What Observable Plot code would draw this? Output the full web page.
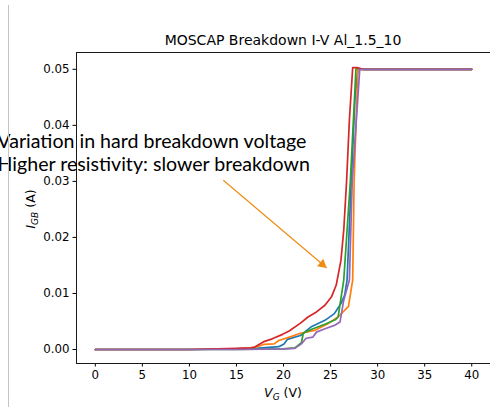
<!DOCTYPE html>
<html>
<head>
<meta charset="utf-8">
<script src="https://cdn.jsdelivr.net/npm/d3@7"></script>
<script src="https://cdn.jsdelivr.net/npm/@observablehq/plot@0.6"></script>
<style>
  html, body { margin: 0; padding: 0; background: #fff; }
  #wrap { position: relative; width: 490px; height: 407px; overflow: hidden; }
  #border { position: absolute; left: 8px; top: 5px; width: 1px; height: 402px; background: #c4c4c4; }
  #chart { position: absolute; left: 0; top: 0; }
</style>
</head>
<body>
<div id="wrap"><div id="chart"></div><div id="border"></div></div>
<script>
// ---- data ----
const seriesNames = ["run 1", "run 2", "run 3", "run 4", "run 5"];
const seriesColors = ["#1f77b4", "#ff7f0e", "#2ca02c", "#d62728", "#9467bd"];

const run1V = [0, 10, 15, 17, 19.5, 20.05, 20.4, 21.8, 22.9, 24.4, 25.4, 26.1, 26.5, 26.75, 27.2, 27.6, 27.9, 28.5, 40];
const run1I = [0, 0, 0.0001, 0.0002, 0.0005, 0.0010, 0.0018, 0.0025, 0.0040, 0.0052, 0.0064, 0.0082, 0.0097, 0.0124, 0.030, 0.045, 0.0500, 0.0500, 0.0500];

const run2V = [0, 10, 15, 16.5, 17.2, 17.9, 19.0, 19.5, 20.8, 21.8, 23.3, 24.7, 25.8, 26.9, 27.35, 27.5, 27.9, 28.5, 40];
const run2I = [0, 0, 0.0001, 0.0003, 0.0005, 0.0009, 0.0010, 0.0016, 0.0023, 0.0029, 0.0034, 0.0046, 0.0058, 0.0077, 0.0124, 0.030, 0.0500, 0.0500, 0.0500];

const run3V = [0, 10, 15, 20, 21.2, 21.9, 22.1, 23.0, 24.4, 25.5, 25.8, 26.4, 27.1, 27.7, 28.5, 40];
const run3I = [0, 0, 0, 0.0001, 0.0003, 0.0012, 0.0029, 0.0036, 0.0045, 0.0053, 0.0058, 0.0124, 0.030, 0.0502, 0.0500, 0.0500];

const run4V = [0, 10, 13, 15, 16.5, 16.9, 17.9, 18.8, 19.9, 20.6, 21.8, 22.6, 23.5, 24.4, 25.1, 25.6, 26.1, 26.4, 26.7, 27.0, 27.35, 27.8, 28.5, 40];
const run4I = [0, 0, 0.0001, 0.0002, 0.0003, 0.0004, 0.0014, 0.0019, 0.0027, 0.0033, 0.0047, 0.0058, 0.0067, 0.0079, 0.0094, 0.0115, 0.0159, 0.0213, 0.030, 0.041, 0.0503, 0.0503, 0.0500, 0.0500];

const run5V = [0, 10, 15, 20, 21.2, 21.9, 22.4, 23.1, 23.5, 24.4, 25.4, 26.0, 26.4, 27.0, 27.3, 28.1, 28.5, 40];
const run5I = [0, 0, 0, 0.0001, 0.0002, 0.0010, 0.0020, 0.0022, 0.0031, 0.0037, 0.0043, 0.0049, 0.0088, 0.0124, 0.030, 0.0500, 0.0500, 0.0500];

const xTicks = [0, 5, 10, 15, 20, 25, 30, 35, 40];
const yTicks = [0, 0.01, 0.02, 0.03, 0.04, 0.05];

const titleText = "MOSCAP Breakdown I-V Al_1.5_10";
const noteLines = ["Variation in hard breakdown voltage", "Higher resistivity: slower breakdown"];
const arrowFrom = {x: 13.6, y: 0.0302};
const arrowTo = {x: 24.57, y: 0.01458};

// ---- build table ----
const allV = [run1V, run2V, run3V, run4V, run5V];
const allI = [run1I, run2I, run3I, run4I, run5I];
const rows = [];
seriesNames.forEach((s, k) => {
  allV[k].forEach((v, i) => rows.push({series: s, V: v, I: allI[k][i]}));
});

const W = 490, H = 407;
const ml = 76, mt = 52, mb = 44, mr = -1;

const plot = Plot.plot({
  width: W,
  height: H,
  marginLeft: ml,
  marginTop: mt,
  marginBottom: mb,
  marginRight: mr,
  style: {fontFamily: "DejaVu Sans", fontSize: "11.8px", color: "#000", background: "transparent"},
  x: {domain: [-2, 42.1], ticks: xTicks, tickFormat: d3.format("d"), tickSize: 3.5, tickPadding: 3.5, label: null},
  y: {domain: [-0.0025, 0.053], ticks: yTicks, tickFormat: d3.format(".2f"), tickSize: 3.5, tickPadding: 3.5, label: null},
  color: {type: "ordinal", domain: seriesNames, range: seriesColors},
  marks: [
    Plot.frame({stroke: "#1a1a1a", strokeWidth: 1}),
    Plot.line(rows, {x: "V", y: "I", z: "series", stroke: "series", strokeWidth: 1.7, strokeLinejoin: "round"}),
    Plot.link([{x1: arrowFrom.x, y1: arrowFrom.y, x2: arrowTo.x, y2: arrowTo.y}], {x1: "x1", y1: "y1", x2: "x2", y2: "y2", stroke: "#f08c12", strokeWidth: 1.2}),
    Plot.dot([arrowTo], {x: "x", y: "y", symbol: "triangle", r: 3.6, fill: "#f08c12", stroke: "none", rotate: 130.2, dx: -4.2, dy: -3.5}),
    Plot.text([{x: 6.0, t: noteLines[0]}], {x: "x", text: "t", frameAnchor: "top", dy: 147 - mt, lineAnchor: "bottom", textAnchor: "middle", fontFamily: "Lato", fontSize: 19.6, fill: "#000"}),
    Plot.text([{x: 6.2, t: noteLines[1]}], {x: "x", text: "t", frameAnchor: "top", dy: 170 - mt, lineAnchor: "bottom", textAnchor: "middle", fontFamily: "Lato", fontSize: 19.6, fill: "#000"})
  ]
});

const svg = d3.select(plot);
svg.style("overflow", "hidden");
// title
svg.append("text")
  .attr("x", (ml + 490) / 2).attr("y", 45)
  .attr("text-anchor", "middle")
  .style("font-family", "DejaVu Sans").style("font-size", "14px").attr("fill", "#000")
  .text(titleText);
// x label
const xl = svg.append("text")
  .attr("x", (ml + 490) / 2).attr("y", 397)
  .attr("text-anchor", "middle")
  .style("font-family", "DejaVu Sans").style("font-size", "12.5px").attr("fill", "#000");
xl.append("tspan").style("font-style", "italic").text("V");
xl.append("tspan").style("font-style", "italic").style("font-size", "9px").attr("dy", 2.5).text("G");
xl.append("tspan").attr("dy", -2.5).text(" (V)");
// y label
const yl = svg.append("text")
  .attr("transform", "translate(35,209) rotate(-90)")
  .attr("text-anchor", "middle")
  .style("font-family", "DejaVu Sans").style("font-size", "12.5px").attr("fill", "#000");
yl.append("tspan").style("font-style", "italic").text("I");
yl.append("tspan").style("font-style", "italic").style("font-size", "9px").attr("dy", 2.5).text("GB");
yl.append("tspan").attr("dy", -2.5).text(" (A)");

document.getElementById("chart").appendChild(plot);
</script>
</body>
</html>
